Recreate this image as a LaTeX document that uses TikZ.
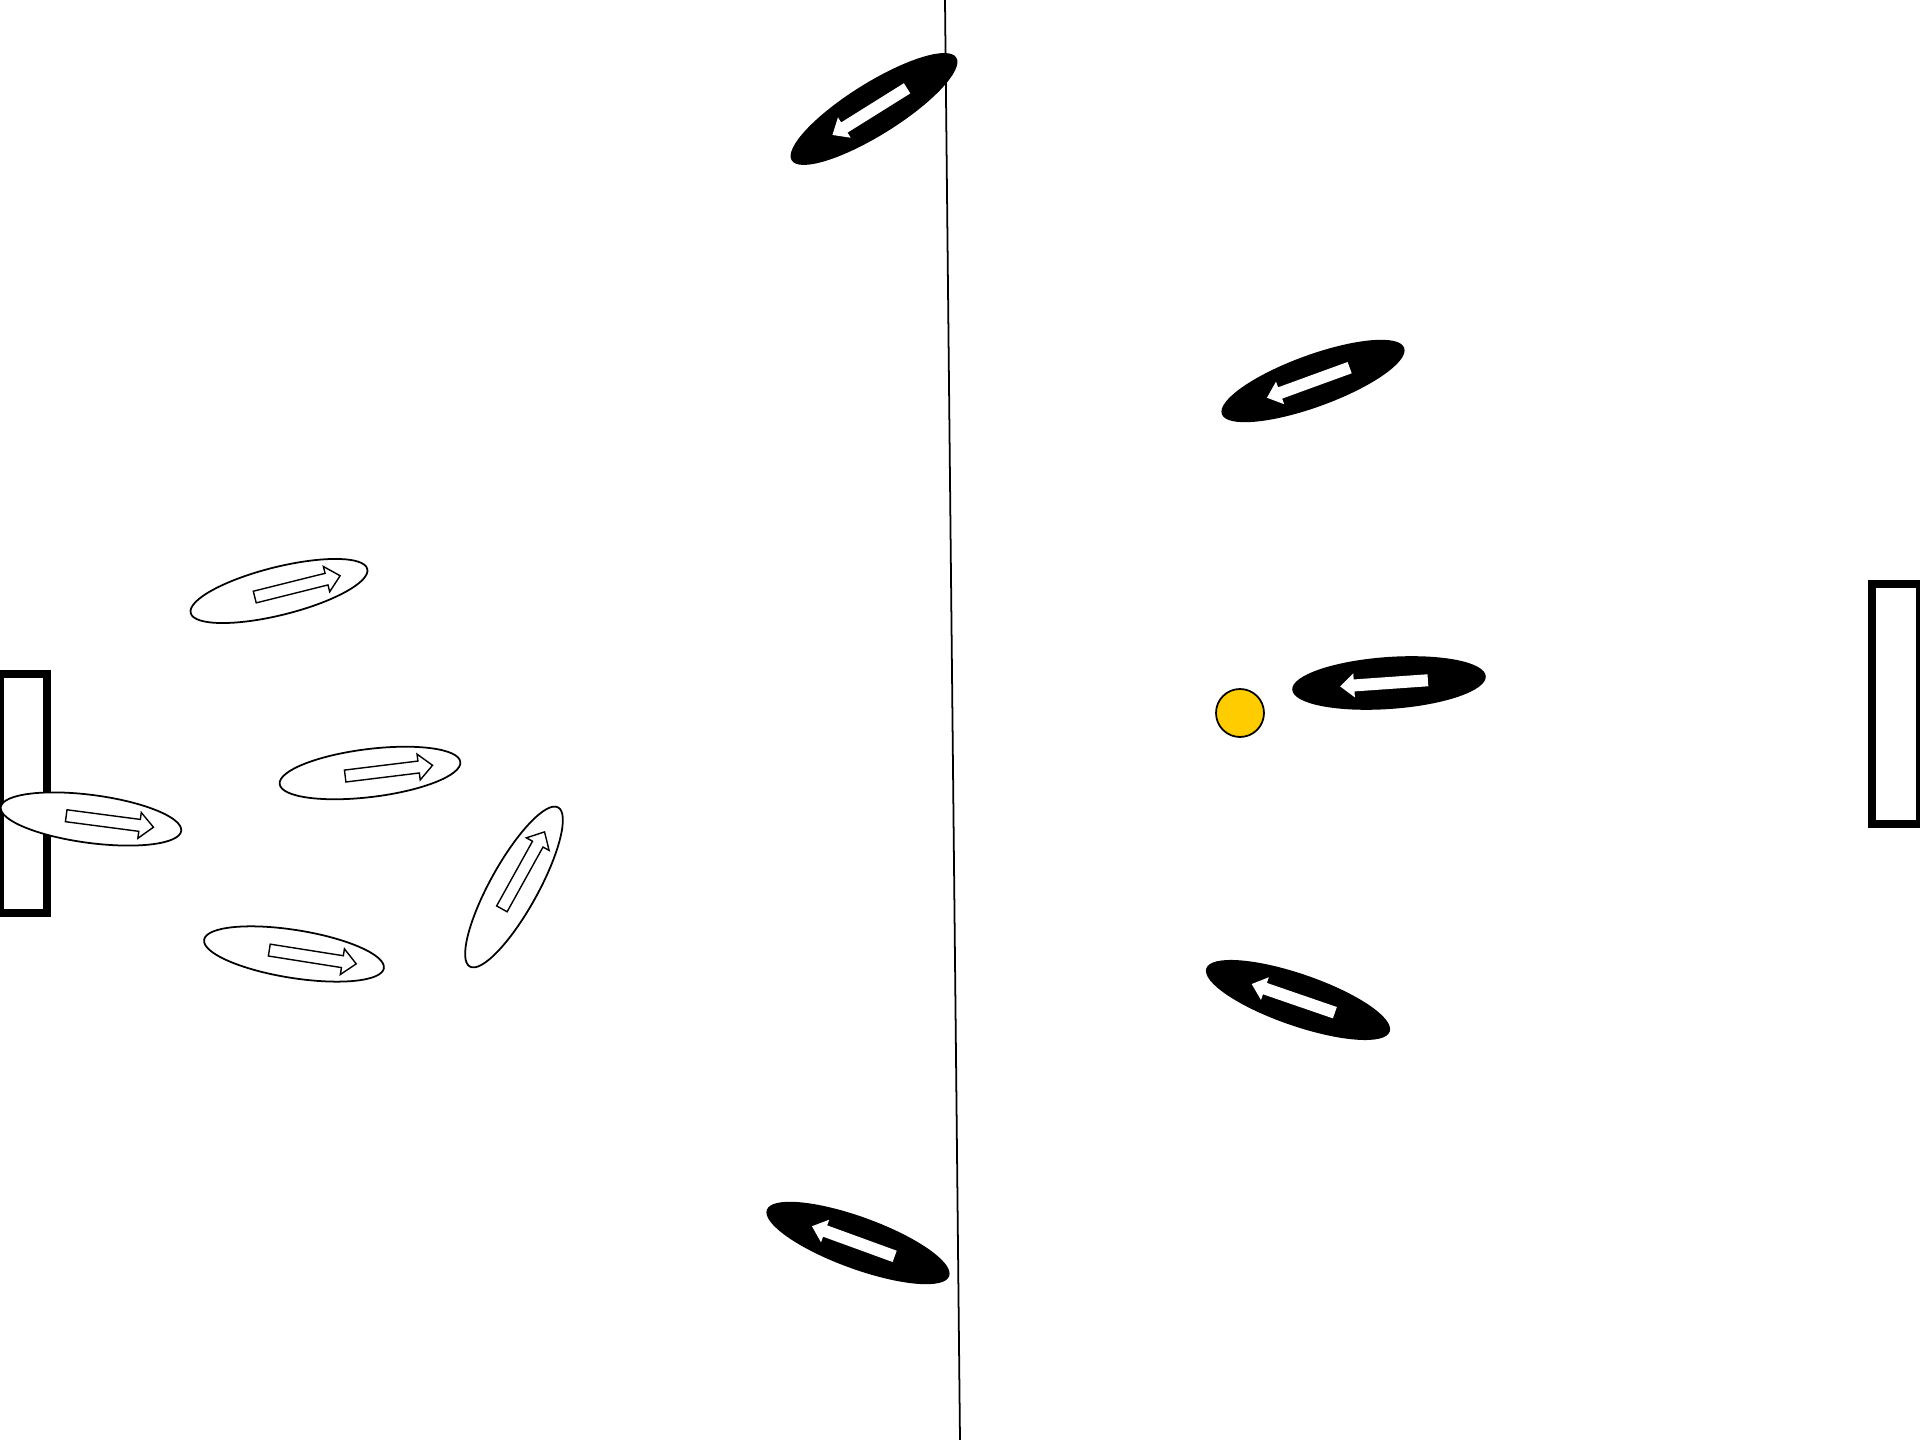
\documentclass[tikz,border=0pt]{standalone}
\definecolor{ballyellow}{HTML}{FFCC00}
\tikzset{
  wellipse/.style={draw=black, fill=white, line width=0.5pt},
  warrow/.style={draw=black, fill=white, line width=0.4pt, line join=miter},
  goalbox/.style={draw=black, line width=2.3pt},
  midline/.style={draw=black, line width=0.5pt},
  ballstyle/.style={draw=black, fill=ballyellow, line width=0.5pt}
}
\newcommand{\wplayer}[3]{%
  \begin{scope}[shift={(#1,-#2)}, rotate=#3]
    \path[wellipse] (0,0) ellipse [x radius=91, y radius=24];
    \path[warrow] (-25,-6) -- (49,-6) -- (49,-13) -- (63,0) -- (49,13) -- (49,6) -- (-25,6) -- cycle;
  \end{scope}}
\newcommand{\bplayer}[3]{%
  \begin{scope}[shift={(#1,-#2)}, rotate=#3]
    \fill[black] (0,0) ellipse [x radius=97, y radius=26];
    \fill[white] (39,-6) -- (-35,-6) -- (-35,-12) -- (-49,0) -- (-35,12) -- (-35,6) -- (39,6) -- cycle;
  \end{scope}}
\begin{document}
\begin{tikzpicture}[x=0.01cm, y=0.01cm]
  \useasboundingbox (0,0) rectangle (1920,-1440);
  \fill[white] (0,0) rectangle (1920,-1440);
  % centre line
  \path[midline] (945,0) -- (960,-1440);
  % goals
  \path[goalbox] (0,-674) rectangle (47,-913);
  \path[goalbox] (1872,-584) rectangle (1920,-824);
  % white team
  \wplayer{279}{591}{14}
  \wplayer{370}{773}{7}
  \wplayer{91}{819}{-7.5}
  \wplayer{294}{954}{-9}
  \wplayer{514}{887}{61}
  % black team
  \bplayer{874}{109}{32}
  \bplayer{1313}{381}{20}
  \bplayer{1389}{683}{4}
  \bplayer{1298}{1000}{-19}
  \bplayer{858}{1243}{-20}
  % ball
  \path[ballstyle] (1240,-713) circle [radius=24];
\end{tikzpicture}
\end{document}
